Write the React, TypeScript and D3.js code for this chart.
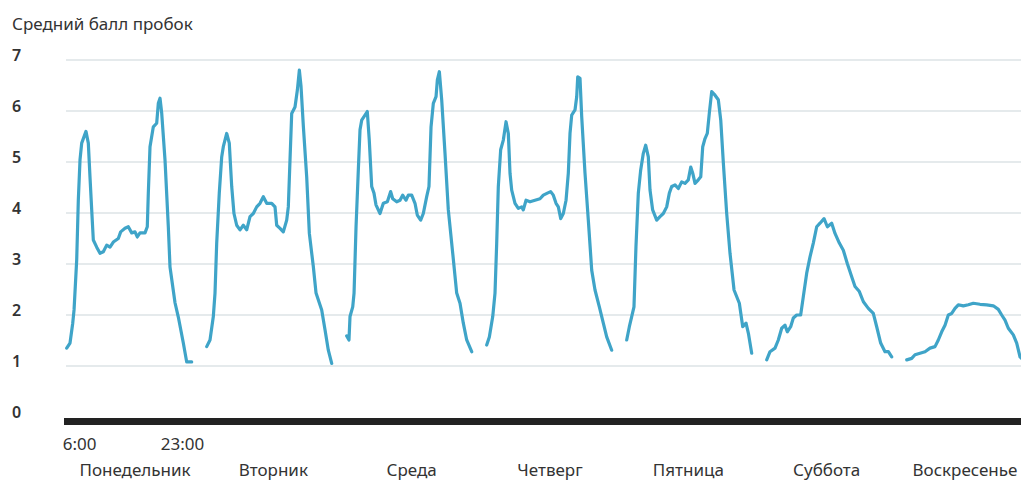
import React from 'react';
import * as d3 from 'd3';

// Средний балл пробок по часам (6:00–23:00), по дням недели
const days = ['Понедельник', 'Вторник', 'Среда', 'Четверг', 'Пятница', 'Суббота', 'Воскресенье'];
const yTicks = [0, 1, 2, 3, 4, 5, 6, 7];
const hourTicks = ['6:00', '23:00'];

// [час, балл]
const mon: [number, number][] = [
  [6, 1.35], [6.45, 1.45], [6.82, 1.84], [7, 2.1], [7.36, 3.08], [7.58, 4.25], [7.81, 5.04], [8.04, 5.37],
  [8.62, 5.6], [8.94, 5.37], [9.17, 4.7], [9.4, 4.06], [9.62, 3.47], [10.08, 3.33], [10.53, 3.21], [10.98, 3.24],
  [11.44, 3.37], [11.89, 3.33], [12.34, 3.43], [13.02, 3.5], [13.34, 3.63], [13.93, 3.7], [14.38, 3.73],
  [14.84, 3.61], [15.29, 3.63], [15.6, 3.53], [15.97, 3.61], [16.65, 3.61], [16.96, 3.73], [17.1, 4.39],
  [17.33, 5.3], [17.78, 5.69], [18.24, 5.76], [18.46, 6.15], [18.69, 6.25], [18.92, 5.96], [19.37, 5.04],
  [19.82, 3.73], [20.05, 2.94], [20.73, 2.24], [21.18, 1.96], [21.86, 1.45], [22.32, 1.08], [23, 1.08],
];
const tue: [number, number][] = [
  [6, 1.38], [6.45, 1.51], [6.9, 1.97], [7.13, 2.43], [7.36, 3.41], [7.71, 4.39], [8.04, 5.1], [8.26, 5.3],
  [8.72, 5.56], [9.07, 5.37], [9.4, 4.52], [9.71, 3.99], [10.08, 3.76], [10.53, 3.67], [10.98, 3.76],
  [11.44, 3.67], [11.89, 3.93], [12.34, 3.99], [12.8, 4.12], [13.25, 4.19], [13.7, 4.32], [14.16, 4.19],
  [14.84, 4.19], [15.29, 4.12], [15.52, 3.76], [15.97, 3.7], [16.42, 3.63], [16.88, 3.86], [17.1, 4.12],
  [17.33, 5.04], [17.56, 5.95], [18.01, 6.08], [18.33, 6.41], [18.6, 6.8], [18.83, 6.48], [19.15, 5.69],
  [19.6, 4.71], [19.96, 3.6], [20.5, 2.95], [20.87, 2.43], [21.64, 2.1], [22.09, 1.71], [22.54, 1.31], [23, 1.05],
];
const wed: [number, number][] = [
  [6, 1.59], [6.31, 1.51], [6.45, 1.97], [6.82, 2.16], [7, 2.43], [7.27, 3.73], [7.58, 4.84], [7.81, 5.63],
  [8.04, 5.82], [8.49, 5.92], [8.8, 5.99], [9.07, 5.43], [9.4, 4.52], [9.71, 4.39], [9.98, 4.16], [10.53, 3.99],
  [10.98, 4.19], [11.53, 4.22], [11.98, 4.42], [12.26, 4.28], [12.8, 4.22], [13.25, 4.25], [13.61, 4.35],
  [14.06, 4.25], [14.38, 4.35], [14.84, 4.35], [15.29, 4.19], [15.6, 3.96], [16.06, 3.86], [16.42, 3.99],
  [16.88, 4.32], [17.19, 4.52], [17.47, 5.69], [17.78, 6.15], [18.15, 6.28], [18.33, 6.61], [18.6, 6.77],
  [18.92, 6.22], [19.37, 5.17], [19.82, 4.06], [20.42, 3.21], [20.96, 2.43], [21.41, 2.23], [21.86, 1.84],
  [22.32, 1.51], [23, 1.28],
];
const thu: [number, number][] = [
  [6, 1.41], [6.36, 1.57], [6.82, 1.97], [7.13, 2.43], [7.36, 3.41], [7.58, 4.52], [7.9, 5.24], [8.26, 5.43],
  [8.63, 5.79], [8.94, 5.56], [9.17, 4.78], [9.4, 4.45], [9.85, 4.19], [10.3, 4.09], [10.76, 4.12], [10.98, 4.06],
  [11.35, 4.25], [11.89, 4.22], [12.57, 4.25], [13.25, 4.28], [13.7, 4.35], [14.25, 4.39], [14.7, 4.42],
  [15.06, 4.35], [15.43, 4.19], [15.74, 4.12], [16.07, 3.89], [16.42, 3.99], [16.79, 4.25], [17.1, 4.78],
  [17.33, 5.56], [17.56, 5.92], [18.01, 6.02], [18.24, 6.28], [18.38, 6.67], [18.69, 6.64], [18.92, 5.89],
  [19.37, 4.78], [19.82, 3.86], [20.28, 2.88], [20.73, 2.49], [21.32, 2.16], [21.86, 1.84], [22.32, 1.57], [23, 1.31],
];
const fri: [number, number][] = [
  [6, 1.51], [6.36, 1.77], [6.68, 1.97], [6.99, 2.16], [7.26, 3.34], [7.58, 4.39], [7.9, 4.84], [8.26, 5.17],
  [8.58, 5.33], [8.94, 5.1], [9.17, 4.45], [9.53, 4.06], [10.08, 3.86], [10.53, 3.93], [10.98, 3.99],
  [11.44, 4.12], [11.8, 4.39], [12.12, 4.52], [12.57, 4.55], [13.02, 4.48], [13.48, 4.61], [13.93, 4.58],
  [14.38, 4.65], [14.71, 4.9], [14.98, 4.78], [15.29, 4.58], [15.74, 4.65], [16.07, 4.71], [16.34, 5.3],
  [16.65, 5.46], [16.96, 5.56], [17.23, 5.95], [17.56, 6.38], [18.01, 6.31], [18.46, 6.22], [18.79, 5.82],
  [19.15, 4.97], [19.6, 3.99], [20.05, 3.21], [20.6, 2.49], [21.32, 2.23], [21.78, 1.77], [22.23, 1.84],
  [22.55, 1.64], [23, 1.25],
];
const sat: [number, number][] = [
  [6, 1.12], [6.45, 1.28], [7.13, 1.35], [7.58, 1.51], [8.04, 1.74], [8.49, 1.8], [8.8, 1.67], [9.26, 1.77],
  [9.62, 1.94], [10.08, 2.0], [10.62, 2.0], [10.98, 2.36], [11.44, 2.82], [11.89, 3.14], [12.34, 3.41],
  [12.8, 3.73], [13.25, 3.8], [13.8, 3.89], [14.25, 3.73], [14.84, 3.8], [15.29, 3.6], [15.88, 3.41],
  [16.42, 3.27], [16.96, 3.01], [17.56, 2.75], [18.01, 2.56], [18.6, 2.46], [19.15, 2.26], [19.82, 2.13],
  [20.5, 2.03], [20.96, 1.77], [21.5, 1.45], [22.09, 1.28], [22.55, 1.28], [23, 1.18],
];
const sun: [number, number][] = [
  [6, 1.12], [6.68, 1.15], [7.13, 1.22], [7.81, 1.25], [8.49, 1.28], [9.17, 1.35], [9.85, 1.38], [10.3, 1.51],
  [10.76, 1.67], [11.21, 1.8], [11.66, 2.0], [12.12, 2.03], [12.57, 2.13], [13.02, 2.2], [13.7, 2.18],
  [14.38, 2.2], [15.06, 2.23], [15.97, 2.21], [16.88, 2.2], [17.78, 2.18], [18.46, 2.11], [18.92, 2.0],
  [19.37, 1.9], [19.82, 1.74], [20.5, 1.61], [20.96, 1.45], [21.41, 1.18], [22, 1.1], [23, 1.05],
];
const series = [mon, tue, wed, thu, fri, sat, sun];

const W = 1021;
const H = 481;
const FONT = '"Noto Sans", "Open Sans", sans-serif';

export default function App() {
  const x0 = 66.7;
  const dayX = d3.scaleBand<string>()
    .domain(days)
    .range([x0, x0 + 965])
    .paddingInner(15 / 140)
    .paddingOuter(0);
  const hourX = d3.scaleLinear().domain([6, 23]).range([0, dayX.bandwidth()]);
  const y = d3.scaleLinear().domain([0, 7]).range([417, 60]);
  // подписи дней стоят чуть плотнее, чем сами отрезки
  const labelX = d3.scalePoint<string>().domain(days).range([135, 965]);

  const line = d3.line<[number, number]>()
    .x(d => hourX(d[0]))
    .y(d => y(d[1]))
    .curve(d3.curveLinear);

  const monX = dayX(days[0]) as number;

  return (
    <svg width={W} height={H} style={{ position: 'absolute', left: 0, top: 0, display: 'block', background: '#fff' }}>
      <text x={12} y={30} fontFamily={FONT} fontSize={17} fill="#333">Средний балл пробок</text>

      {yTicks.filter(t => t > 0).map(t => (
        <line key={'g' + t} x1={66} x2={W} y1={y(t)} y2={y(t)} stroke="#dde3e6" strokeWidth={1.5} />
      ))}
      {yTicks.map(t => (
        <text key={'l' + t} x={12} y={y(t) + 1} fontFamily={FONT} fontSize={16} fontWeight={600} fill="#333">{t}</text>
      ))}

      {series.map((s, i) => (
        <g key={days[i]} transform={`translate(${dayX(days[i])},0)`}>
          <path d={line(s) || ''} fill="none" stroke="#3fa4c8" strokeWidth={3.2}
            strokeLinejoin="round" strokeLinecap="round" />
        </g>
      ))}

      <rect x={64} y={y(0) + 1} width={W - 64} height={7} fill="#222" />

      <text x={monX + hourX(6) - 4} y={450} fontFamily={FONT} fontSize={17} fill="#333">{hourTicks[0]}</text>
      <text x={monX + hourX(21.75)} y={450} textAnchor="middle" fontFamily={FONT} fontSize={17} fill="#333">{hourTicks[1]}</text>

      {days.map(d => (
        <text key={d} x={labelX(d)} y={476} textAnchor="middle"
          fontFamily={FONT} fontSize={17} fill="#333">{d}</text>
      ))}
    </svg>
  );
}
